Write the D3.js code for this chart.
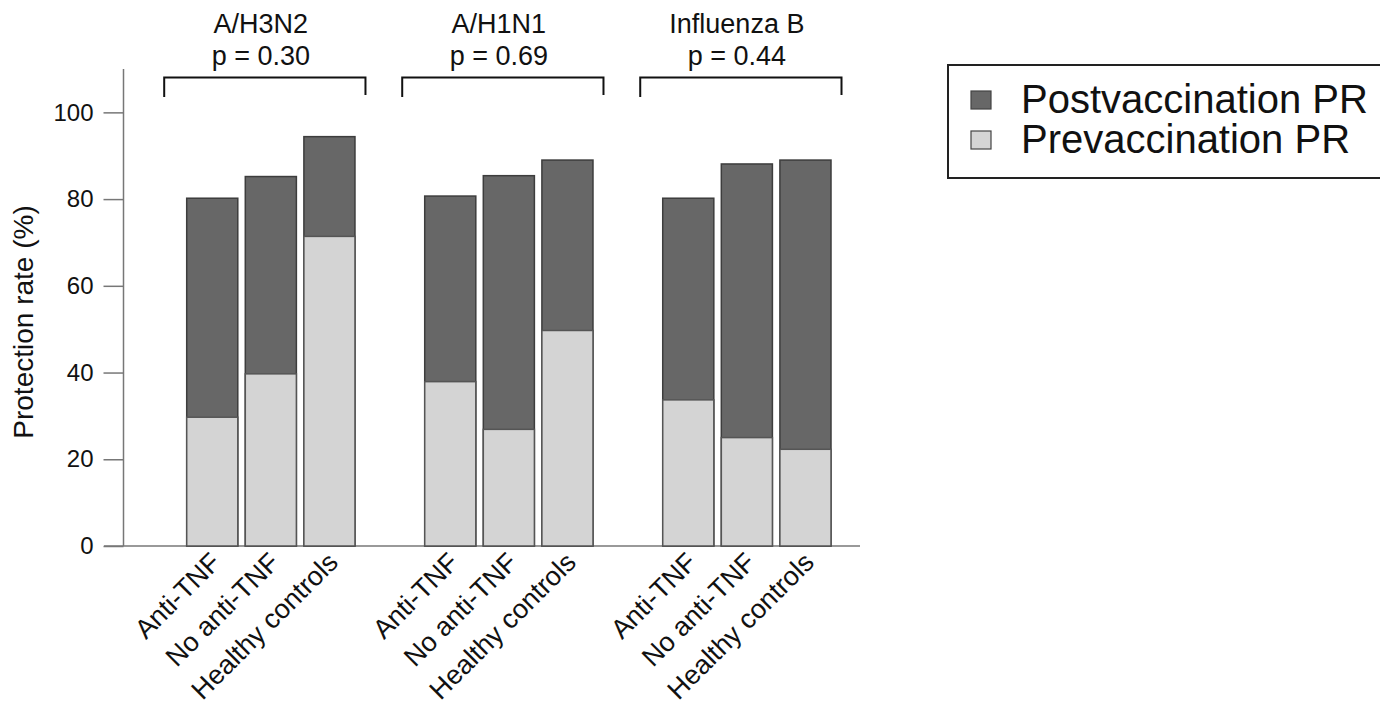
<!DOCTYPE html>
<html>
<head>
<meta charset="utf-8">
<script src="https://cdn.jsdelivr.net/npm/d3@7"></script>
<style>
    body { margin: 0; background: #fff; }
    svg text { font-family: "Liberation Sans", Arial, sans-serif; fill: #111; }
</style>
</head>
<body>
<div id="chart"></div>
<script>

// data
var strains = ["A/H3N2", "A/H1N1", "Influenza B"];
var pValues = ["p = 0.30", "p = 0.69", "p = 0.44"];
var groups = ["Anti-TNF", "No anti-TNF", "Healthy controls"];
var prePR = [[29.7, 39.7, 71.4], [37.9, 26.9, 49.7], [33.7, 25.0, 22.3]];
var postPR = [[80.2, 85.2, 94.4], [80.7, 85.4, 89.0], [80.2, 88.1, 89.0]];
var yTicks = [0, 20, 40, 60, 80, 100];
var seriesNames = ["Postvaccination PR", "Prevaccination PR"];
var seriesColors = ["#676767", "#d4d4d4"];

var width = 1380, height = 709;

var svg = d3.select("#chart").append("svg")
    .attr("width", width)
    .attr("height", height);

// scales
var y = d3.scaleLinear()
    .domain([0, 110])
    .range([546, 69]);

var x0 = d3.scaleBand()
    .domain(strains)
    .range([186.7, 831])
    .paddingInner(0.293)
    .paddingOuter(0);

var x1 = d3.scaleBand()
    .domain(groups)
    .range([0, x0.bandwidth()])
    .paddingInner(0.128)
    .paddingOuter(0);

// y axis
var yAxis = d3.axisLeft(y)
    .tickValues(yTicks)
    .tickSize(20)
    .tickPadding(10);

var gy = svg.append("g")
    .attr("class", "y-axis")
    .attr("transform", "translate(123.5,0)")
    .call(yAxis);

gy.select(".domain").attr("stroke", "#777").attr("stroke-width", 1.5)
    .attr("d", "M0," + y(110) + "V" + y(0));
gy.selectAll(".tick line").attr("stroke", "#777").attr("stroke-width", 1.5);
gy.selectAll(".tick text").style("font-size", "24px").attr("fill", "#111");

// baseline
svg.append("line")
    .attr("x1", 104).attr("x2", 860)
    .attr("y1", y(0)).attr("y2", y(0))
    .attr("stroke", "#777")
    .attr("stroke-width", 1.5);

svg.append("text")
    .attr("transform", "translate(33," + 322 + ") rotate(-90)")
    .style("text-anchor", "middle")
    .style("font-size", "28px")
    .text("Protection rate (%)");

// bars
var rows = [];
strains.forEach(function(s, i) {
    groups.forEach(function(g, j) {
        rows.push({strain: s, group: g, pre: prePR[i][j], post: postPR[i][j]});
    });
});

var bar = svg.selectAll(".bar")
    .data(rows)
    .enter().append("g")
    .attr("class", "bar")
    .attr("transform", function(d) { return "translate(" + (x0(d.strain) + x1(d.group)) + ",0)"; });

bar.append("rect")
    .attr("x", 0)
    .attr("width", x1.bandwidth())
    .attr("y", function(d) { return y(d.post); })
    .attr("height", function(d) { return y(0) - y(d.post); })
    .attr("fill", seriesColors[0])
    .attr("stroke", "#3d3d3d")
    .attr("stroke-width", 1.5);

bar.append("rect")
    .attr("x", 0)
    .attr("width", x1.bandwidth())
    .attr("y", function(d) { return y(d.pre); })
    .attr("height", function(d) { return y(0) - y(d.pre); })
    .attr("fill", seriesColors[1])
    .attr("stroke", "#555")
    .attr("stroke-width", 1.5);

// category labels, rotated
svg.selectAll(".xlabel")
    .data(rows)
    .enter().append("text")
    .attr("class", "xlabel")
    .attr("transform", function(d) {
        var cx = x0(d.strain) + x1(d.group) + x1.bandwidth() / 2 + 10;
        return "translate(" + cx + ",564) rotate(-45)";
    })
    .style("text-anchor", "end")
    .style("font-size", "27px")
    .text(function(d) { return d.group; });

// brackets and titles
var head = svg.selectAll(".head")
    .data(strains)
    .enter().append("g")
    .attr("class", "head");

head.append("path")
    .attr("d", function(s) {
        var a = x0(s) - 22.5, b = x0(s) + x0.bandwidth() + 10.5;
        return "M" + a + ",97V77.5H" + b + "V95";
    })
    .attr("fill", "none")
    .attr("stroke", "#111")
    .attr("stroke-width", 2);

head.append("text")
    .attr("x", function(s) { return x0(s) + x0.bandwidth() / 2 - 10; })
    .attr("y", 33)
    .style("text-anchor", "middle")
    .style("font-size", "27px")
    .text(function(s) { return s; });

head.append("text")
    .attr("x", function(s) { return x0(s) + x0.bandwidth() / 2 - 10; })
    .attr("y", 65)
    .style("text-anchor", "middle")
    .style("font-size", "27px")
    .text(function(s, i) { return pValues[i]; });

// legend
var legend = svg.append("g").attr("class", "legend");

legend.append("rect")
    .attr("x", 948).attr("y", 65)
    .attr("width", 500).attr("height", 113)
    .attr("fill", "none")
    .attr("stroke", "#222")
    .attr("stroke-width", 2);

var item = legend.selectAll(".item")
    .data(seriesNames)
    .enter().append("g")
    .attr("class", "item")
    .attr("transform", function(d, i) { return "translate(0," + (i * 40) + ")"; });

item.append("rect")
    .attr("x", 971).attr("y", 91)
    .attr("width", 20).attr("height", 18)
    .attr("fill", function(d, i) { return seriesColors[i]; })
    .attr("stroke", "#444")
    .attr("stroke-width", 1.2);

item.append("text")
    .attr("x", 1021)
    .attr("y", 113)
    .style("font-size", "40px")
    .text(function(d) { return d; });

</script>
</body>
</html>
